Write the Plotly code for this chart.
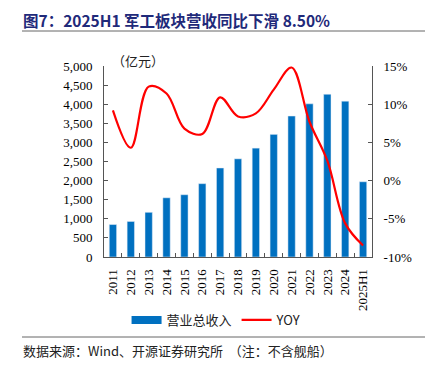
import plotly.graph_objects as go

years = ["2011", "2012", "2013", "2014", "2015", "2016", "2017", "2018", "2019",
         "2020", "2021", "2022", "2023", "2024", "2025H1"]
revenue = [850, 930, 1170, 1550, 1630, 1920, 2330, 2570, 2850, 3210, 3690, 4010, 4260, 4080, 1970]
yoy = [9.2, 4.3, 12.3, 11.4, 6.8, 6.1, 10.9, 8.4, 8.8, 11.9, 14.8, 7.7, 2.6, -5.6, -8.5]

left_ticks = [0, 500, 1000, 1500, 2000, 2500, 3000, 3500, 4000, 4500, 5000]
right_ticks = [-10, -5, 0, 5, 10, 15]

serif = "Liberation Serif, Times New Roman, serif"
cjk = "Noto Sans CJK SC"
BLUE = "#0070C0"

fig = go.Figure()
fig.add_trace(go.Bar(x=years, y=revenue, name="营业总收入", marker_color=BLUE,
                     width=0.41, yaxis="y", showlegend=False))
fig.add_trace(go.Scatter(x=[None], y=[None], name="营业总收入", mode="lines",
                         line=dict(color=BLUE, width=8), yaxis="y", showlegend=True))
fig.add_trace(go.Scatter(x=years, y=yoy, name="YOY", mode="lines",
                         line=dict(color="#FF0000", width=2.2, shape="spline", smoothing=1.0),
                         yaxis="y2"))

# page has an 8px body margin, so the figure is 8px smaller and offset by it
W, H = 425, 360
fig.update_layout(
    width=W, height=H,
    margin=dict(l=96, r=61, t=58, b=111),
    paper_bgcolor="white", plot_bgcolor="white",
    showlegend=True,
    legend=dict(orientation="h", x=0.42, xanchor="center", y=-(305 - 257) / 191, yanchor="top",
                font=dict(family=cjk, size=13, color="#222"),
                traceorder="normal"),
    xaxis=dict(type="category", tickangle=-90, tickfont=dict(family=serif, size=13, color="#000"),
               showline=True, linecolor="#555", linewidth=1, ticks="inside", ticklen=4,
               tickcolor="#555", tickson="boundaries", showgrid=False, ticklabelstandoff=6),
    yaxis=dict(range=[0, 5000], tickvals=left_ticks,
               ticktext=[f"{v:,}" for v in left_ticks],
               tickfont=dict(family=serif, size=13, color="#000"),
               showline=True, linecolor="#555", linewidth=1, ticks="inside", ticklen=4,
               tickcolor="#555", showgrid=False, zeroline=False, ticklabelstandoff=8),
    yaxis2=dict(range=[-10, 15], tickvals=right_ticks,
                ticktext=[f"{v}%" for v in right_ticks], overlaying="y", side="right",
                tickfont=dict(family=serif, size=13, color="#000"),
                showline=True, linecolor="#555", linewidth=1, ticks="inside", ticklen=4,
                tickcolor="#555", showgrid=False, zeroline=False, ticklabelstandoff=8),
)

def px(x):
    return (x - 104) / 268

def py(y):
    return 1 - (y - 66) / 191

fig.add_annotation(text="图7：2025H1 军工板块营收同比下滑 8.50%", xref="paper", yref="paper",
                   x=px(21), xanchor="left", y=py(19.5), yanchor="middle",
                   showarrow=False, font=dict(family=cjk, size=15.5, color="#1F2A7A", weight="bold"))
fig.add_shape(type="line", xref="paper", yref="paper", x0=px(22), x1=px(440),
              y0=py(31), y1=py(31), line=dict(color="#666", width=1))
fig.add_annotation(text="（亿元）", xref="paper", yref="paper", x=px(110), xanchor="left",
                   y=py(60), yanchor="middle", showarrow=False,
                   font=dict(family=cjk, size=13, color="#222"))
fig.add_shape(type="line", xref="paper", yref="paper", x0=px(22), x1=px(440),
              y0=py(337), y1=py(337), line=dict(color="#666", width=1))
fig.add_annotation(text="数据来源：Wind、开源证券研究所  （注：不含舰船）", xref="paper", yref="paper",
                   x=px(21), xanchor="left", y=py(350), yanchor="middle",
                   showarrow=False, font=dict(family=cjk, size=13, color="#222"))

fig.write_html("out.html")
